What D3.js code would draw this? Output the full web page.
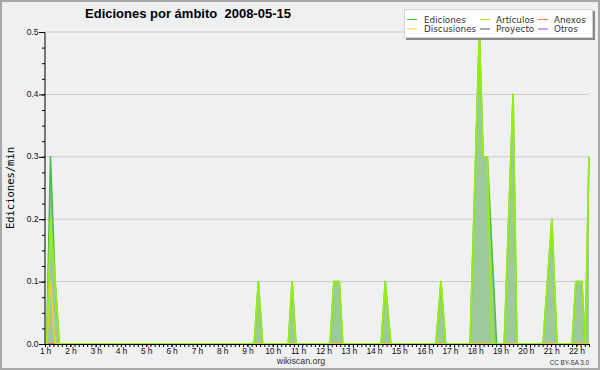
<!DOCTYPE html>
<html>
<head>
<meta charset="utf-8">
<script src="https://cdn.jsdelivr.net/npm/d3@7"></script>
<style>
  body { margin: 0; background: #eff0f2; }
  svg { display: block; }
</style>
</head>
<body>
<script>
// edits per minute (10 min averages)
var times = ['1:00', '1:04', '1:13', '1:24', '1:34', '9:16', '9:26', '9:36', '10:37', '10:46', '10:55',
  '12:16', '12:25', '12:38', '12:46', '14:17', '14:27', '14:40', '16:27', '16:39', '16:50',
  '17:48', '18:10', '18:19', '18:29', '18:40', '18:51', '19:09', '19:30', '19:39',
  '20:41', '21:02', '21:14', '21:50', '21:59', '22:13', '22:21', '22:30'];
var ediciones = [0, 0, 0.3, 0.1, 0, 0, 0.1, 0, 0, 0.1, 0,
  0, 0.1, 0.1, 0, 0, 0.1, 0, 0, 0.1, 0,
  0, 0.5, 0.3, 0.3, 0.15, 0, 0, 0.4, 0,
  0, 0.2, 0, 0, 0.1, 0.1, 0, 0.3];
var articulos = [0, 0, 0.2, 0.1, 0, 0, 0.1, 0, 0, 0.1, 0,
  0, 0.1, 0.1, 0, 0, 0.1, 0, 0, 0.1, 0,
  0, 0.5, 0.3, 0.3, 0, 0, 0, 0.4, 0,
  0, 0.2, 0, 0, 0.1, 0.1, 0, 0.3];
var discusiones = [0, 0, 0.1, 0, 0, 0, 0, 0, 0, 0, 0,
  0, 0, 0, 0, 0, 0, 0, 0, 0, 0,
  0, 0, 0, 0, 0, 0, 0, 0, 0,
  0, 0, 0, 0, 0, 0, 0, 0];
var anexos = [0, 0, 0, 0, 0, 0, 0, 0, 0, 0, 0,
  0, 0, 0, 0, 0, 0, 0, 0, 0, 0,
  0, 0, 0, 0, 0, 0, 0, 0, 0,
  0, 0, 0, 0, 0, 0, 0, 0];
var proyecto = [0, 0, 0, 0, 0, 0, 0, 0, 0, 0, 0,
  0, 0, 0, 0, 0, 0, 0, 0, 0, 0,
  0, 0, 0, 0, 0, 0, 0, 0, 0,
  0, 0, 0, 0, 0, 0, 0, 0];
var otros = [0, 0, 0, 0, 0, 0, 0, 0, 0, 0, 0,
  0, 0, 0, 0, 0, 0, 0, 0, 0, 0,
  0, 0, 0, 0, 0, 0, 0, 0, 0,
  0, 0, 0, 0, 0, 0, 0, 0];
var yTicks = [0, 0.1, 0.2, 0.3, 0.4, 0.5];
var day = '2008-05-15';
var timeStart = '1:00', timeEnd = '22:30';

var series = [
  { name: 'Ediciones', values: ediciones, color: '#44bb44' },
  { name: 'Artículos', values: articulos, color: '#99ee11' },
  { name: 'Anexos', values: anexos, color: '#ff7a40' },
  { name: 'Discusiones', values: discusiones, color: '#ffcc22' },
  { name: 'Proyecto', values: proyecto, color: '#555555' },
  { name: 'Otros', values: otros, color: '#9944ff' }
];

var W = 600, H = 370;
var margin = { top: 32, right: 11, bottom: 26, left: 45 };
var width = W - margin.left - margin.right,
    height = H - margin.top - margin.bottom;

var parse = d3.timeParse('%Y-%m-%d %H:%M');
var dates = times.map(function(t) { return parse(day + ' ' + t); });

var x = d3.scaleTime()
  .domain([parse(day + ' ' + timeStart), parse(day + ' ' + timeEnd)])
  .range([0, width]);
var y = d3.scaleLinear().domain([0, 0.5]).range([height, 0]);

var svg = d3.select('body').append('svg')
  .attr('width', W)
  .attr('height', H);

svg.append('rect')
  .attr('x', 1).attr('y', 1)
  .attr('width', W - 2).attr('height', H - 2)
  .attr('fill', '#eff0f2')
  .attr('stroke', '#a8a8a8')
  .attr('stroke-width', 2);

svg.append('text')
  .attr('x', 188)
  .attr('y', 18)
  .attr('text-anchor', 'middle')
  .style('font-family', 'Liberation Sans, Arial, sans-serif')
  .style('font-weight', 'bold')
  .style('font-size', '13px')
  .style('white-space', 'pre')
  .text('Ediciones por ámbito  2008-05-15');

svg.append('text')
  .attr('transform', 'translate(14,188) rotate(-90)')
  .attr('text-anchor', 'middle')
  .style('font-family', 'DejaVu Sans Mono, monospace')
  .style('font-size', '10.5px')
  .text('Ediciones/min');

var g = svg.append('g')
  .attr('transform', 'translate(' + margin.left + ',' + margin.top + ')');

// grid
g.selectAll('.grid')
  .data(yTicks.slice(1))
  .enter()
  .append('line')
  .attr('x1', 0).attr('x2', width)
  .attr('y1', function(d) { return y(d); })
  .attr('y2', function(d) { return y(d); })
  .attr('stroke', '#cbcbcb')
  .attr('stroke-width', 1);

var idx = d3.range(times.length);

var area = d3.area()
  .x(function(i) { return x(dates[i]); })
  .y0(height)
  .y1(function(i) { return y(ediciones[i]); });

g.append('path')
  .datum(idx)
  .attr('d', area)
  .attr('fill', '#9dca9d');

var drawOrder = [4, 5, 2, 0, 3, 1];
drawOrder.forEach(function(k) {
  var s = series[k];
  var line = d3.line()
    .x(function(i) { return x(dates[i]); })
    .y(function(i) { return y(s.values[i]); });
  g.append('path')
    .datum(idx)
    .attr('d', line)
    .attr('fill', 'none')
    .attr('stroke', s.color)
    .attr('stroke-width', k === 1 ? 1.8 : 1.5)
    .attr('stroke-linejoin', 'round');
});

// y axis
var yMinor = d3.range(0, 0.5001, 0.025);
var yAxisMinor = d3.axisLeft(y).tickValues(yMinor).tickSize(3).tickFormat('');
var yAxis = d3.axisLeft(y).tickValues(yTicks).tickSize(6).tickFormat(d3.format('.1f'));

g.append('g').call(yAxisMinor)
  .call(function(a) { a.select('.domain').remove(); });
var ya = g.append('g').call(yAxis);
ya.select('.domain').attr('d', 'M0,' + height + 'V0.5');
ya.selectAll('text')
  .attr('x', -6.5)
  .attr('dy', '0.25em')
  .style('font-family', 'Liberation Sans, Arial, sans-serif')
  .style('font-size', '8.5px')
  .attr('fill', '#111');

// x axis
var xMinor = d3.timeMinute.every(10).range(x.domain()[0], new Date(+x.domain()[1] + 1));
var xHours = d3.timeHour.every(1).range(x.domain()[0], new Date(+x.domain()[1] + 1));

g.append('g')
  .attr('transform', 'translate(0,' + height + ')')
  .call(d3.axisBottom(x).tickValues(xMinor).tickSize(3).tickFormat(''))
  .call(function(a) { a.select('.domain').remove(); });

var xa = g.append('g')
  .attr('transform', 'translate(0,' + height + ')')
  .call(d3.axisBottom(x).tickValues(xHours).tickSize(3).tickFormat(d3.timeFormat('%-H h')));
xa.select('.domain').attr('d', 'M0,0.5H' + width);
xa.selectAll('text')
  .attr('y', 4)
  .attr('dy', '0.71em')
  .style('font-family', 'Liberation Sans, Arial, sans-serif')
  .style('font-size', '8.5px')
  .style('letter-spacing', '-0.2px')
  .attr('fill', '#111');

svg.append('text')
  .attr('x', 301)
  .attr('y', 363.5)
  .attr('text-anchor', 'middle')
  .style('font-family', 'Liberation Sans, Arial, sans-serif')
  .style('font-size', '8.8px')
  .attr('fill', '#333')
  .text('wikiscan.org');

svg.append('text')
  .attr('x', 589)
  .attr('y', 365)
  .attr('text-anchor', 'end')
  .style('font-family', 'Liberation Sans, Arial, sans-serif')
  .style('font-size', '6.3px')
  .attr('fill', '#333')
  .text('CC BY-SA 3.0');

// legend
var lg = svg.append('g');
lg.append('rect')
  .attr('x', 406).attr('y', 11)
  .attr('width', 189).attr('height', 29)
  .attr('fill', '#888');
lg.append('rect')
  .attr('x', 404.5).attr('y', 9.5)
  .attr('width', 188).attr('height', 28)
  .attr('fill', '#fff')
  .attr('stroke', '#d0d0d0');

var colX = [407, 480, 538];
var rowY = [19.5, 29];
var items = lg.selectAll('.item')
  .data(series)
  .enter()
  .append('g')
  .attr('transform', function(d, i) {
    return 'translate(' + colX[i % 3] + ',' + rowY[Math.floor(i / 3)] + ')';
  });
items.append('line')
  .attr('x1', 0).attr('x2', 10)
  .attr('y1', 0).attr('y2', 0)
  .attr('stroke', function(d) { return d.color; })
  .attr('stroke-width', 1);
items.append('text')
  .attr('x', function(d, i) { return i % 3 === 0 ? 17 : 16; })
  .attr('dy', '0.35em')
  .style('font-family', 'DejaVu Sans, sans-serif')
  .style('font-size', '8.8px')
  .attr('fill', '#333')
  .text(function(d) { return d.name; });
</script>
</body>
</html>
